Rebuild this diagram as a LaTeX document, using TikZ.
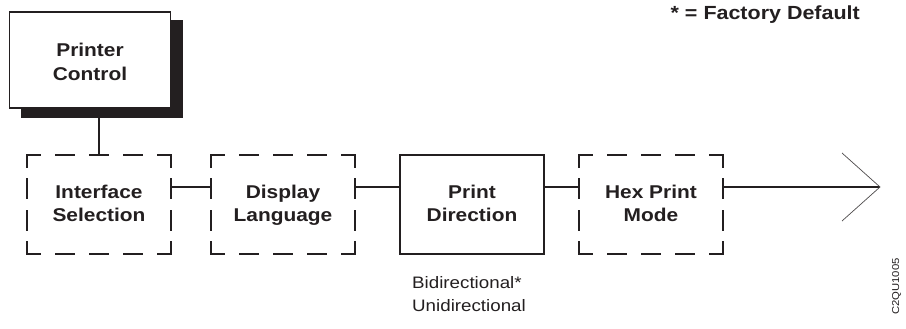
\documentclass[tikz,border=0pt]{standalone}
\usepackage{fontspec}
\setmainfont{Liberation Sans}[FakeStretch=1.13]
\usetikzlibrary{arrows.meta}
\definecolor{ink}{HTML}{231F20}
\newcommand\twolines[3][6.25pt]{\rule[-#1]{0pt}{23pt}#2\\\rule[-#1]{0pt}{23pt}#3}
\tikzset{
  boxtext/.style={font=\fontsize{18.5}{23.5}\selectfont\bfseries, align=center, text=ink},
  solidbox/.style={boxtext, draw=ink, line width=1.8pt, fill=white, minimum width=144pt, minimum height=99pt, inner sep=0pt, outer sep=0pt},
  dbox/.style={boxtext, draw=none, minimum width=144pt, minimum height=99pt, inner sep=0pt, outer sep=0pt},
  dframe/.style={draw=ink, line width=1.8pt, line cap=rect},
  conn/.style={draw=ink, line width=1.6pt},
  hdash/.style={dframe, dash pattern=on 13pt off 16pt on 18pt off 16pt on 18pt off 16pt on 18pt off 16pt on 13pt off 200pt},
  vdash/.style={dframe, dash pattern=on 12pt off 12.3pt on 19pt off 12.3pt on 19pt off 12.3pt on 12pt off 200pt},
}
\newcommand\dashframe[1]{%
  \draw[hdash] (#1.north west) -- (#1.north east);
  \draw[hdash] (#1.south west) -- (#1.south east);
  \draw[vdash] (#1.north west) -- (#1.south west);
  \draw[vdash] (#1.north east) -- (#1.south east);
}
\begin{document}
\begin{tikzpicture}[x=1pt,y=-1pt]
\path[use as bounding box, fill=white] (0,0) rectangle (906,329);

% factory default note
\node[font=\fontsize{19}{23}\selectfont\bfseries, text=ink, anchor=east, inner sep=0pt] (fd) at (860,15) {* = Factory Default};

% dashed / solid boxes of the row
\node[dbox] (is) at (99,204.5) {\twolines{Interface}{Selection}};
\node[dbox] (dl) at (283,204.5) {\twolines{Display}{Language}};
\node[solidbox] (pd) at (472,204.5) {\twolines{Print}{Direction}};
\node[dbox] (hp) at (651,204.5) {\twolines{Hex Print}{Mode}};
\dashframe{is}
\dashframe{dl}
\dashframe{hp}

% printer control with shadow
\coordinate (cy) at (0,187);
\node[fill=ink, minimum width=162pt, minimum height=98pt, inner sep=0pt, outer sep=0pt] (sh) at (102,69) {};
\draw[conn] (is.north) -- (is.north |- sh.south);
\node[solidbox, minimum width=161pt, minimum height=96pt] (pc) at (90,60) {\twolines[2.75pt]{Printer}{Control}};

% connectors
\draw[conn] (is.east |- cy) -- (dl.west |- cy);
\draw[conn] (dl.east |- cy) -- (pd.west |- cy);
\draw[conn] (pd.east |- cy) -- (hp.west |- cy);
\coordinate (tip) at (880,187);
\draw[conn] (hp.east |- cy) -- (tip);
\draw[draw=ink!80, line width=0.7pt] (tip) ++(-38,-34) -- (tip) -- ++(-38,34);

% options under print direction
\node[font=\fontsize{16.6}{23}\selectfont, text=ink, align=left, anchor=base west, inner sep=0pt] (opt) at (412,311) {Bidirectional*\\Unidirectional};

% figure id
\node[font=\fontsize{10}{12}\selectfont, text=ink, rotate=90, inner sep=0pt] (fid) at (896.5,286.5) {C2QU1005};
\end{tikzpicture}
\end{document}
